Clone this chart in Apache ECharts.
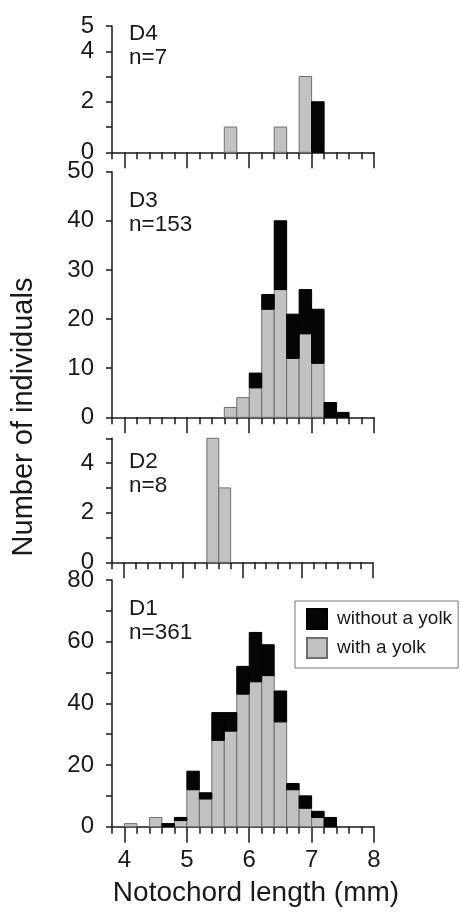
<!DOCTYPE html>
<html><head><meta charset="utf-8">
<script src="https://cdn.jsdelivr.net/npm/echarts@6/dist/echarts.min.js"></script>
<style>html,body{margin:0;padding:0;background:#fff}#c{width:460px;height:918px}</style>
</head><body><div id="c"></div>
<script>
// ---- data ----
const binStarts = [4.0, 4.2, 4.4, 4.6, 4.8, 5.0, 5.2, 5.4, 5.6, 5.8, 6.0, 6.2, 6.4, 6.6, 6.8, 7.0, 7.2, 7.4];
const binWidth = 0.2;
const d4WithYolk    = [0, 0, 0, 0, 0, 0, 0, 0, 1, 0, 0, 0, 1, 0, 3, 0, 0, 0];
const d4WithoutYolk = [0, 0, 0, 0, 0, 0, 0, 0, 0, 0, 0, 0, 0, 0, 0, 2, 0, 0];
const d3WithYolk    = [0, 0, 0, 0, 0, 0, 0, 0, 2, 4, 6, 22, 26, 12, 17, 11, 0, 0];
const d3WithoutYolk = [0, 0, 0, 0, 0, 0, 0, 0, 0, 0, 3, 3, 14, 9, 9, 11, 3, 1];
const d2WithYolk    = [0, 0, 0, 0, 0, 0, 0, 5, 3, 0, 0, 0, 0, 0, 0, 0, 0, 0];
const d2WithoutYolk = [0, 0, 0, 0, 0, 0, 0, 0, 0, 0, 0, 0, 0, 0, 0, 0, 0, 0];
const d1WithYolk    = [1, 0, 3, 0, 2, 12, 9, 28, 31, 43, 47, 49, 34, 12, 6, 3, 0, 0];
const d1WithoutYolk = [0, 0, 0, 1, 1, 6, 2, 9, 6, 9, 16, 10, 10, 2, 4, 2, 3, 0];
const panelNames  = ['D4', 'D3', 'D2', 'D1'];
const panelCounts = ['n=7', 'n=153', 'n=8', 'n=361'];
const seriesNames = ['without a yolk', 'with a yolk'];
const xTickLabels = [4, 5, 6, 7, 8];
const yMax = [5, 50, 5, 80];
const yInterval = [1, 10, 1, 10];
const yTickLabels = [[0, 2, 4, 5], [0, 10, 20, 30, 40, 50], [0, 2, 4], [0, 20, 40, 60, 80]];
const xAxisName = 'Notochord length (mm)';
const yAxisName = 'Number of individuals';

// ---- layout ----
const FONT = '"Liberation Sans", Arial, Helvetica, sans-serif';
const INK = '#1a1a1a';
const grids = [
  {left: 112, width: 262, top: 26, height: 126.3},
  {left: 112, width: 262, top: 171.7, height: 245.6},
  {left: 112, width: 261, top: 438.3, height: 124},
  {left: 112, width: 262, top: 580, height: 246.7}
];
const xMax = [8, 8, 8.2, 8];
const majorTicks = [[4,5,6,7,8],[4,5,6,7,8],[4,5,6,7,8.2],[4,5,6,7,8]];
const withYolk = [d4WithYolk, d3WithYolk, d2WithYolk, d1WithYolk];
const withoutYolk = [d4WithoutYolk, d3WithoutYolk, d2WithoutYolk, d1WithoutYolk];

function minorTicks(max) {
  const out = [];
  for (let i = 0; 3.8 + i * 0.2 <= max + 1e-9; i++) out.push(Math.round((3.8 + i * 0.2) * 10) / 10);
  return out;
}

const xAxes = [], yAxes = [], series = [];
grids.forEach((g, k) => {
  const ls = {color: INK, width: 1.5};
  xAxes.push({
    type: 'value', gridIndex: k, min: 3.8, max: xMax[k],
    axisLine: {show: true, onZero: false, lineStyle: ls},
    axisTick: {show: true, length: 7, customValues: minorTicks(xMax[k]), lineStyle: ls},
    axisLabel: {show: false}, splitLine: {show: false}
  });
  xAxes.push({
    type: 'value', gridIndex: k, min: 3.8, max: xMax[k], position: 'bottom',
    axisLine: {show: false},
    axisTick: {show: true, length: 16, customValues: majorTicks[k], lineStyle: ls},
    axisLabel: {show: k === 3, customValues: xTickLabels, margin: 22, fontSize: 24, color: INK, fontFamily: FONT},
    splitLine: {show: false}
  });
  const labs = yTickLabels[k];
  yAxes.push({
    type: 'value', gridIndex: k, min: 0, max: yMax[k], interval: yInterval[k],
    axisLine: {show: true, lineStyle: ls},
    axisTick: {show: true, length: 6, lineStyle: ls},
    axisLabel: {show: true, customValues: labs, margin: 18, fontSize: 24, color: INK, fontFamily: FONT,
      formatter: v => (labs.indexOf(v) >= 0 ? String(v) : '')},
    splitLine: {show: false}
  });
  const mk = (name, base, vals, fill, stroke) => ({
    type: 'custom', name, xAxisIndex: 2 * k, yAxisIndex: k,
    itemStyle: {color: fill, borderColor: stroke, borderWidth: 1},
    data: binStarts.map((b, i) => [b, base[i], base[i] + vals[i]]).filter(d => d[2] > d[1]),
    encode: {x: 0, y: 2},
    renderItem(params, api) {
      const x0 = api.value(0), y0 = api.value(1), y1 = api.value(2);
      const p0 = api.coord([x0, y0]);
      const p1 = api.coord([x0 + binWidth, y1]);
      return {type: 'rect', shape: {x: p0[0], y: p1[1], width: p1[0] - p0[0], height: p0[1] - p1[1]},
        style: {fill, stroke, lineWidth: 1}};
    }
  });
  const zeros = binStarts.map(() => 0);
  series.push(mk(seriesNames[1], zeros, withYolk[k], '#c2c2c2', '#6f6f6f'));
  series.push(mk(seriesNames[0], withYolk[k], withoutYolk[k], '#050505', '#000'));
});

const labelTops = [22.5, 189.5, 450.5, 597.5];
const graphic = panelNames.map((n, k) => ({
  type: 'text', x: 129, y: labelTops[k], z: 10,
  style: {text: n + '\n' + panelCounts[k], fontSize: 22.5, lineHeight: 23.5, fill: INK, fontFamily: FONT, align: 'left', verticalAlign: 'top'}
}));
graphic.push({type: 'text', x: 256, y: 893, style: {text: xAxisName, fontSize: 28, fill: INK, fontFamily: FONT, align: 'center', verticalAlign: 'middle'}});
graphic.push({type: 'text', x: 24, y: 417, rotation: Math.PI / 2, style: {text: yAxisName, fontSize: 29, fill: INK, fontFamily: FONT, align: 'center', verticalAlign: 'middle'}});

const chart = echarts.init(document.getElementById('c'), null, {renderer: 'canvas'});
chart.setOption({
  animation: false,
  backgroundColor: '#fff',
  grid: grids,
  xAxis: xAxes,
  yAxis: yAxes,
  series,
  legend: {
    left: 295, top: 601, orient: 'vertical', data: seriesNames, icon: 'rect', selectedMode: false,
    itemWidth: 20, itemHeight: 20, itemGap: 7, padding: [7, 6, 9, 11],
    borderColor: '#777', borderWidth: 1, backgroundColor: '#fff',
    textStyle: {fontSize: 19, color: INK, fontFamily: FONT, padding: [0, 0, 0, 5]}
  },
  graphic
});
</script></body></html>
